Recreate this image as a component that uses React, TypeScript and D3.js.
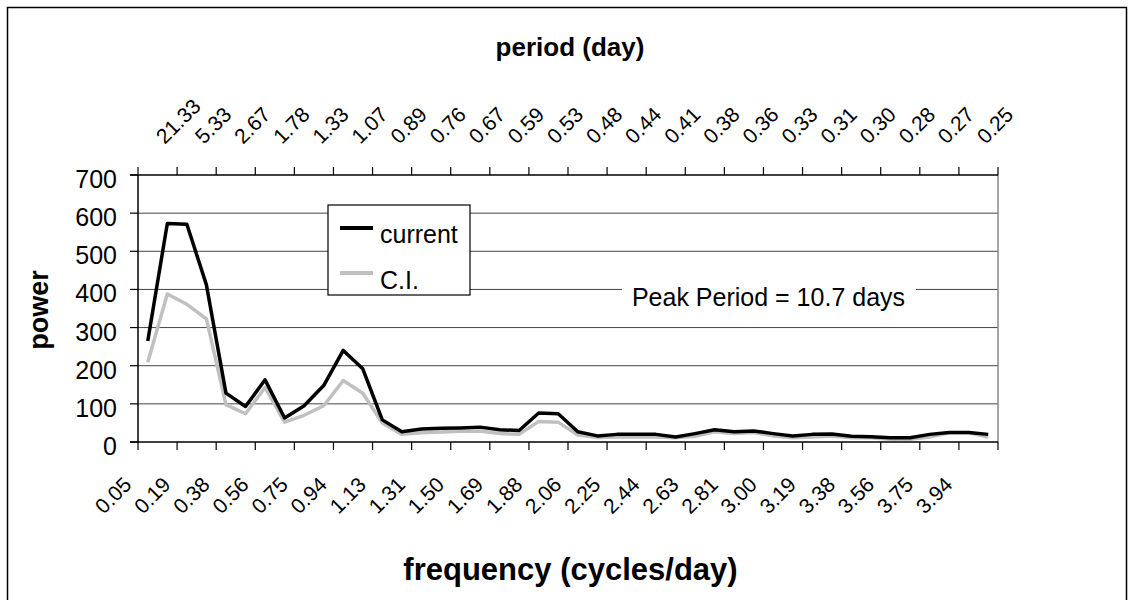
import React from "react";
import * as d3 from "d3";

const currentPower = [265, 573, 571, 412, 128, 93, 163, 63, 95, 148, 240, 192, 58, 27, 34, 36, 37, 39, 32, 30, 76, 74, 27, 16, 20, 20, 20, 13, 22, 32, 27, 29, 22, 16, 20, 21, 15, 14, 11, 11, 20, 25, 25, 20];
const ciPower = [209, 388, 361, 323, 98, 74, 143, 52, 70, 95, 161, 128, 50, 20, 24, 26, 28, 29, 22, 20, 54, 52, 18, 12, 13, 13, 13, 11, 15, 27, 22, 25, 16, 11, 13, 16, 11, 11, 7, 7, 13, 24, 24, 13];
const freqLabels = ["0.05", "0.19", "0.38", "0.56", "0.75", "0.94", "1.13", "1.31", "1.50", "1.69", "1.88", "2.06", "2.25", "2.44", "2.63", "2.81", "3.00", "3.19", "3.38", "3.56", "3.75", "3.94"];
const periodLabels = ["21.33", "5.33", "2.67", "1.78", "1.33", "1.07", "0.89", "0.76", "0.67", "0.59", "0.53", "0.48", "0.44", "0.41", "0.38", "0.36", "0.33", "0.31", "0.30", "0.28", "0.27", "0.25"];
const yTicks = [0, 100, 200, 300, 400, 500, 600, 700];
const seriesNames = ["current", "C.I."];

const W = 1133, H = 600;
const L = 138, R = 998, T = 175, B = 442;
const FONT = "'Liberation Sans', Arial, sans-serif";

export default function App() {
  const idx = currentPower.map((_, i) => i);
  const x = d3.scaleBand<number>().domain(idx).range([L, R]).padding(0);
  const bw = x.bandwidth();
  const cx = (i: number) => (x(i) as number) + bw / 2;
  const y = d3.scaleLinear().domain([0, 700]).range([B, T]);
  const line = d3.line<number>().x((_, i) => cx(i)).y((d) => y(d));
  const tickIdx = d3.range(0, idx.length + 1, 2);
  const tickX = (i: number) => (i < idx.length ? (x(i) as number) : R);

  return (
    <svg width={W} height={H} style={{ position: "absolute", left: 0, top: 0, background: "#fff" }} fontFamily={FONT}>
      <rect x={7.5} y={7.5} width={1119} height={620} fill="#fff" stroke="#000" strokeWidth={1.5} />
      {/* gridlines */}
      {yTicks.filter((t) => t > 0 && t < 700).map((t) => (
        <line key={t} x1={L} x2={R} y1={y(t)} y2={y(t)} stroke="#444" strokeWidth={1} />
      ))}
      <line x1={R} x2={R} y1={T} y2={B} stroke="#888" strokeWidth={1.5} />
      {/* Peak period annotation */}
      <rect x={622} y={282} width={294} height={30} fill="#fff" />
      <text x={768.5} y={306} textAnchor="middle" fontSize={25} fill="#000">Peak Period = 10.7 days</text>
      {/* axes */}
      <line x1={L} x2={L} y1={T} y2={B} stroke="#000" strokeWidth={1.5} />
      <line x1={L - 8} x2={R} y1={B} y2={B} stroke="#000" strokeWidth={1.5} />
      <line x1={L - 8} x2={R} y1={T} y2={T} stroke="#000" strokeWidth={1.5} />
      {yTicks.map((t) => (
        <g key={t}>
          <line x1={L - 8} x2={L} y1={y(t)} y2={y(t)} stroke="#000" strokeWidth={1.2} />
          <text x={117} y={y(t) + 13} textAnchor="end" fontSize={25}>{t}</text>
        </g>
      ))}
      {tickIdx.map((i) => (
        <g key={i}>
          <line x1={tickX(i)} x2={tickX(i)} y1={B} y2={B + 8} stroke="#000" strokeWidth={1.2} />
          <line x1={tickX(i)} x2={tickX(i)} y1={T} y2={T - 8} stroke="#000" strokeWidth={1.2} />
        </g>
      ))}
      {freqLabels.map((s, k) => {
        const px = cx(2 * k) - 15, py = 486;
        return (
          <text key={k} transform={`translate(${px},${py}) rotate(-45)`} textAnchor="end" fontSize={21}>{s}</text>
        );
      })}
      {periodLabels.map((s, k) => {
        const px = cx(2 * k) + 17, py = 145;
        return (
          <text key={k} transform={`translate(${px},${py}) rotate(-45)`} textAnchor="start" fontSize={21}>{s}</text>
        );
      })}
      {/* series */}
      <path d={line(ciPower) || ""} fill="none" stroke="#c0c0c0" strokeWidth={3.5} strokeLinejoin="round" />
      <path d={line(currentPower) || ""} fill="none" stroke="#000" strokeWidth={3.5} strokeLinejoin="round" />
      {/* legend */}
      <rect x={328} y={205} width={142} height={90} fill="#fff" stroke="#000" strokeWidth={1.2} />
      <line x1={340} x2={373} y1={228} y2={228} stroke="#000" strokeWidth={4} />
      <text x={380} y={243} fontSize={25}>{seriesNames[0]}</text>
      <line x1={340} x2={373} y1={273} y2={273} stroke="#c0c0c0" strokeWidth={4} />
      <text x={380} y={289} fontSize={25}>{seriesNames[1]}</text>
      {/* titles */}
      <text x={570} y={56} textAnchor="middle" fontSize={26} fontWeight="bold">period (day)</text>
      <text x={570.5} y={580} textAnchor="middle" fontSize={31} fontWeight="bold">frequency (cycles/day)</text>
      <text transform={`translate(48,310) rotate(-90)`} textAnchor="middle" fontSize={27} fontWeight="bold">power</text>
    </svg>
  );
}
